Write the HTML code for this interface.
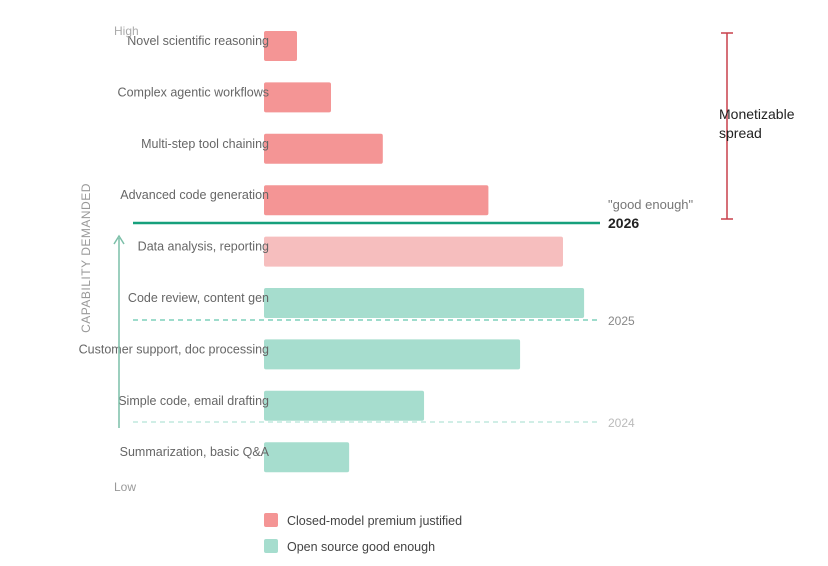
<!DOCTYPE html>
<html><head><meta charset="utf-8"><style>
body{margin:0;background:#fff;}
svg text{font-family:"Liberation Sans",sans-serif;}
</style></head><body>
<svg width="828" height="561" viewBox="0 0 828 561">
<g id="bars"></g>
<line x1="133" y1="223" x2="600" y2="223" stroke="#16a07c" stroke-width="2.5"/>
<line x1="133" y1="320" x2="600" y2="320" stroke="#7fd0bb" stroke-width="1.5" stroke-dasharray="5,4"/>
<line x1="133" y1="422" x2="600" y2="422" stroke="#b5e3d7" stroke-width="1.2" stroke-dasharray="5,4"/>
<text x="608" y="209" font-size="13" fill="#777">"good enough"</text>
<text x="608" y="228" font-size="14" font-weight="bold" fill="#222">2026</text>
<text x="608" y="325" font-size="12" fill="#888">2025</text>
<text x="608" y="427" font-size="12" fill="#bbb">2024</text>
<line x1="119" y1="428" x2="119" y2="238" stroke="#7cbfa8" stroke-width="1.5"/>
<polyline points="114,244 119,236 124,244" fill="none" stroke="#7cbfa8" stroke-width="1.5"/>
<text transform="translate(90,258) rotate(-90)" text-anchor="middle" font-size="12" fill="#999" letter-spacing="0.5">CAPABILITY DEMANDED</text>
<text x="114" y="35" font-size="12" fill="#aaa">High</text>
<text x="114" y="491" font-size="12" fill="#999">Low</text>
<g stroke="#c8414b" stroke-width="1.5">
<line x1="727" y1="33" x2="727" y2="219"/><line x1="721" y1="33" x2="733" y2="33"/><line x1="721" y1="219" x2="733" y2="219"/>
</g>
<text x="719" y="119" font-size="14" fill="#222">Monetizable</text>
<text x="719" y="138" font-size="14" fill="#222">spread</text>
<rect x="264" y="513" width="14" height="14" rx="2" fill="#f49595"/>
<text x="287" y="525" font-size="12.5" fill="#444">Closed-model premium justified</text>
<rect x="264" y="539" width="14" height="14" rx="2" fill="#a6ddce"/>
<text x="287" y="551" font-size="12.5" fill="#444">Open source good enough</text>
</svg>
<script>
const categories=["Novel scientific reasoning","Complex agentic workflows","Multi-step tool chaining","Advanced code generation","Data analysis, reporting","Code review, content gen","Customer support, doc processing","Simple code, email drafting","Summarization, basic Q&A"];
const values=[10,20.3,36,68,90.6,97,77.6,48.5,25.8];
const groups=["closed","closed","closed","closed","transition","open","open","open","open"];
const colors={closed:"#f49595",transition:"#f6bebe",open:"#a6ddce"};
const x0=264, pxPerUnit=3.3;
function xScale(v){return x0+v*pxPerUnit;}
function yScale(i){return 46+i*51.4;}
const g=document.getElementById('bars');
const NS="http://www.w3.org/2000/svg";
categories.forEach((c,i)=>{
  const r=document.createElementNS(NS,'rect');
  r.setAttribute('x',x0);r.setAttribute('y',yScale(i)-15);
  r.setAttribute('width',xScale(values[i])-x0);r.setAttribute('height',30);
  r.setAttribute('rx',2);r.setAttribute('fill',colors[groups[i]]);
  
  
  g.appendChild(r);
  const t=document.createElementNS(NS,'text');
  t.setAttribute('x',269);t.setAttribute('y',yScale(i)-1);
  t.setAttribute('text-anchor','end');t.setAttribute('font-size','12.5');t.setAttribute('fill','#666');
  t.textContent=c;
  
  
  g.appendChild(t);
});
</script>
</body></html>
